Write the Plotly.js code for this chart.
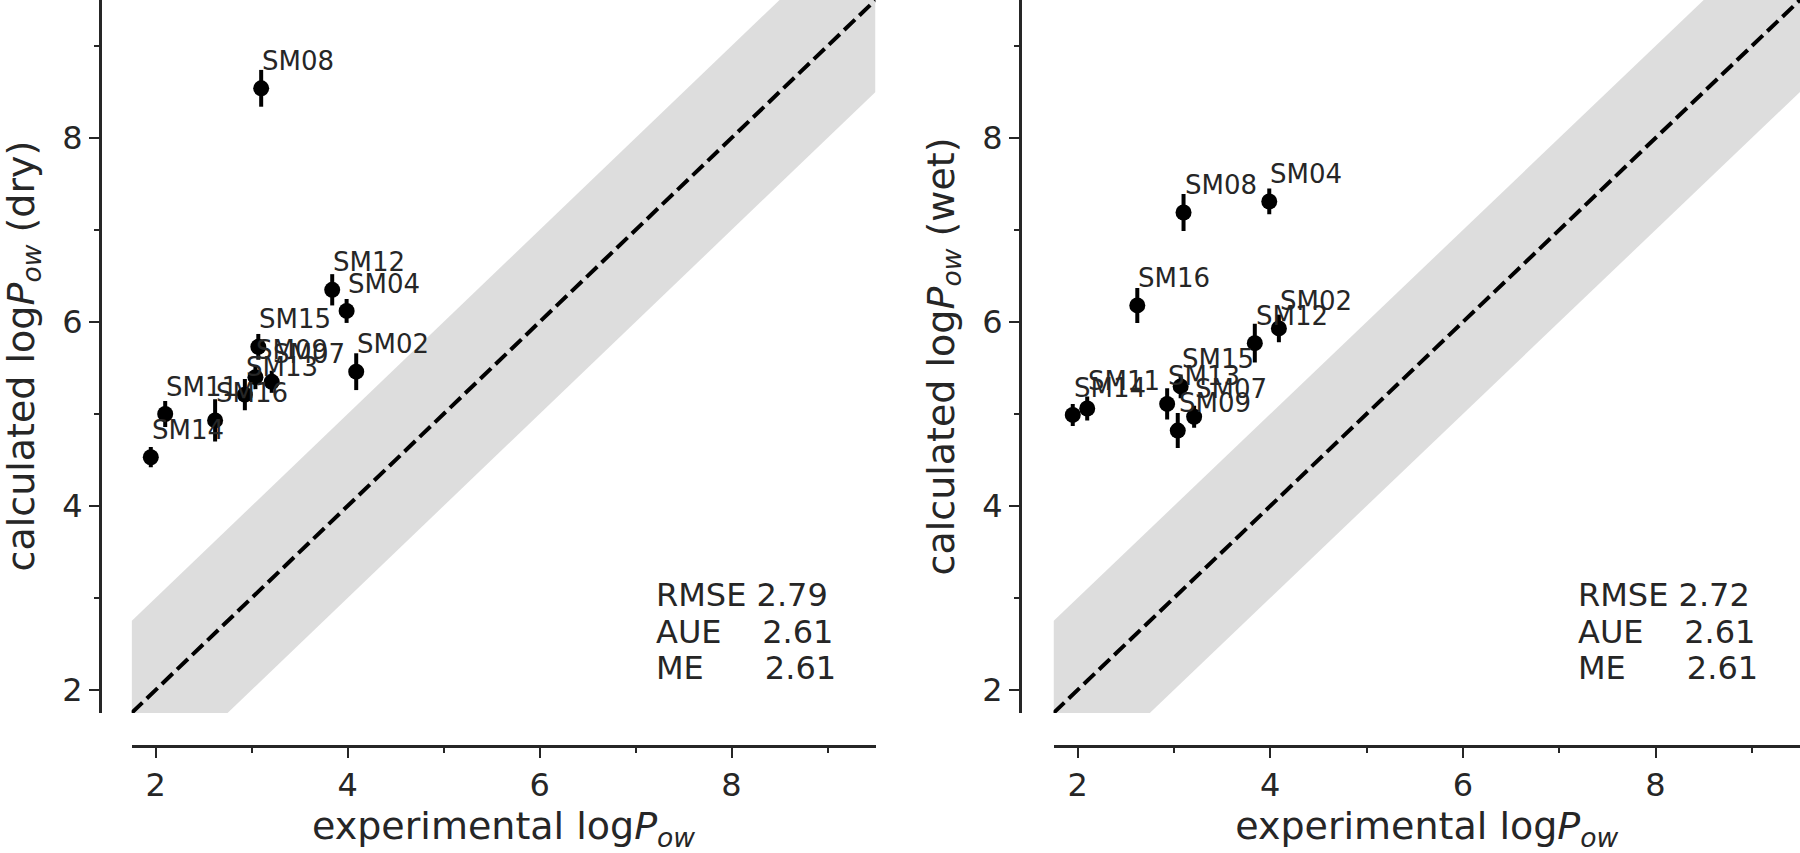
<!DOCTYPE html>
<html>
<head>
<meta charset="utf-8">
<script src="https://cdn.plot.ly/plotly-3.0.1.min.js"></script>
<style>
  html, body { margin: 0; padding: 0; background: #fff; }
  #chart { width: 1800px; height: 853px; }
</style>
</head>
<body>
<div id="chart"></div>
<script>
// === Datos ===
const names    = ["SM02", "SM04", "SM07", "SM08", "SM09", "SM11", "SM12", "SM13", "SM14", "SM15", "SM16"];
const expLogP  = [4.09, 3.99, 3.21, 3.10, 3.04, 2.10, 3.84, 2.93, 1.95, 3.07, 2.62];
const dryCalc  = [5.46, 6.12, 5.35, 8.54, 5.40, 5.00, 6.35, 5.21, 4.53, 5.73, 4.93];
const dryErr   = [0.20, 0.13, 0.12, 0.20, 0.13, 0.14, 0.17, 0.17, 0.11, 0.14, 0.23];
const wetCalc  = [5.93, 7.31, 4.97, 7.19, 4.82, 5.06, 5.77, 5.11, 4.99, 5.30, 6.18];
const wetErr   = [0.15, 0.14, 0.12, 0.20, 0.19, 0.13, 0.21, 0.17, 0.12, 0.13, 0.19];

const statNames = ["RMSE", "AUE", "ME"];
const statPad   = [1, 4, 6];
const dryStats  = ["2.79", "2.61", "2.61"];
const wetStats  = ["2.72", "2.61", "2.61"];

const axisRange = [1.75, 9.5];
const band = 1;                // +/- 1 log unit

// === Estilo ===
const FONT = "DejaVu Sans";
const INK = "#262626";
const W = 1800, H = 853;
const PLOT_BOTTOM = 713;       // borde inferior del área de datos (px)

function panelTraces(calc, err, xa, ya) {
  const lo = axisRange.map(v => v - band);
  const hi = axisRange.map(v => v + band);
  return [
    { x: axisRange, y: lo, xaxis: xa, yaxis: ya, mode: "lines",
      line: { width: 0, color: "rgba(0,0,0,0)" }, hoverinfo: "skip", showlegend: false },
    { x: axisRange, y: hi, xaxis: xa, yaxis: ya, mode: "lines", fill: "tonexty",
      fillcolor: "#dddddd", line: { width: 0, color: "rgba(0,0,0,0)" }, hoverinfo: "skip", showlegend: false },
    { x: axisRange, y: axisRange, xaxis: xa, yaxis: ya, mode: "lines",
      line: { color: "black", width: 4, dash: "15px,6px" }, hoverinfo: "skip", showlegend: false },
    { x: expLogP, y: calc, xaxis: xa, yaxis: ya, mode: "markers", text: names,
      marker: { color: "black", size: 16 },
      error_y: { type: "data", array: err, visible: true, color: "black", thickness: 4, width: 0 },
      showlegend: false }
  ];
}

function pointLabels(calc, xa, ya) {
  // texto en (x, y+0.2), alineado a la izquierda sobre la línea base
  return names.map((n, i) => ({
    x: expLogP[i], y: calc[i] + 0.2, xref: xa, yref: ya,
    text: n, showarrow: false, xanchor: "left", yanchor: "middle",
    yshift: 9, xshift: -1,
    font: { family: FONT, size: 26, color: INK }
  }));
}

function statLabels(values, xLeft) {
  const base = [606, 642.7, 679.3];
  return statNames.map((s, i) => ({
    x: xLeft, y: 1 - (base[i] - 11) / H, xref: "paper", yref: "paper",
    text: s + "\u00a0".repeat(statPad[i]) + values[i],
    showarrow: false, xanchor: "left", yanchor: "middle",
    font: { family: FONT, size: 32, color: INK }
  }));
}

function yTitle(xCenter, label) {
  return {
    x: xCenter / W, y: 1 - (PLOT_BOTTOM / 2) / H, xref: "paper", yref: "paper",
    text: "calculated log<i>P<sub>ow</sub></i> (" + label + ")",
    textangle: -90, showarrow: false, xanchor: "center", yanchor: "middle",
    font: { family: FONT, size: 38, color: INK }
  };
}

function xAxis(domain) {
  return {
    domain, range: axisRange, anchor: "free", position: (H - 746) / H,
    showline: true, linecolor: INK, linewidth: 2.5,
    ticks: "outside", ticklen: 10, tickwidth: 2, tickcolor: INK,
    tick0: 0, dtick: 2,
    minor: { tick0: 0, dtick: 1, ticks: "outside", ticklen: 5, tickwidth: 2, tickcolor: INK, showgrid: false },
    showgrid: false, zeroline: false, automargin: false,
    tickfont: { family: FONT, size: 32, color: INK },
    title: { text: "experimental log<i>P<sub>ow</sub></i>", standoff: 14,
             font: { family: FONT, size: 38, color: INK } }
  };
}

function yAxis(pos) {
  return {
    domain: [1 - PLOT_BOTTOM / H, 1], range: axisRange, anchor: "free", position: pos,
    showline: true, linecolor: INK, linewidth: 2.5,
    ticks: "outside", ticklen: 10, tickwidth: 2, tickcolor: INK,
    tick0: 0, dtick: 2,
    minor: { tick0: 0, dtick: 1, ticks: "outside", ticklen: 5, tickwidth: 2, tickcolor: INK, showgrid: false },
    showgrid: false, zeroline: false, automargin: false,
    tickfont: { family: FONT, size: 32, color: INK }
  };
}

const data = [
  ...panelTraces(dryCalc, dryErr, "x", "y"),
  ...panelTraces(wetCalc, wetErr, "x2", "y2")
];

const layout = {
  width: W, height: H,
  margin: { l: 0, r: 0, t: 0, b: 0 },
  paper_bgcolor: "white", plot_bgcolor: "white",
  showlegend: false,
  font: { family: FONT, color: INK },
  xaxis: xAxis([131.6 / W, 875.5 / W]),
  yaxis: yAxis(100 / W),
  xaxis2: xAxis([1053.5 / W, 1]),
  yaxis2: yAxis(1020 / W),
  annotations: [
    yTitle(23, "dry"),
    yTitle(943, "wet"),
    ...pointLabels(dryCalc, "x", "y"),
    ...pointLabels(wetCalc, "x2", "y2"),
    ...statLabels(dryStats, 654 / W),
    ...statLabels(wetStats, 1576 / W)
  ]
};

Plotly.newPlot("chart", data, layout, { displayModeBar: false, staticPlot: true });
</script>
</body>
</html>
